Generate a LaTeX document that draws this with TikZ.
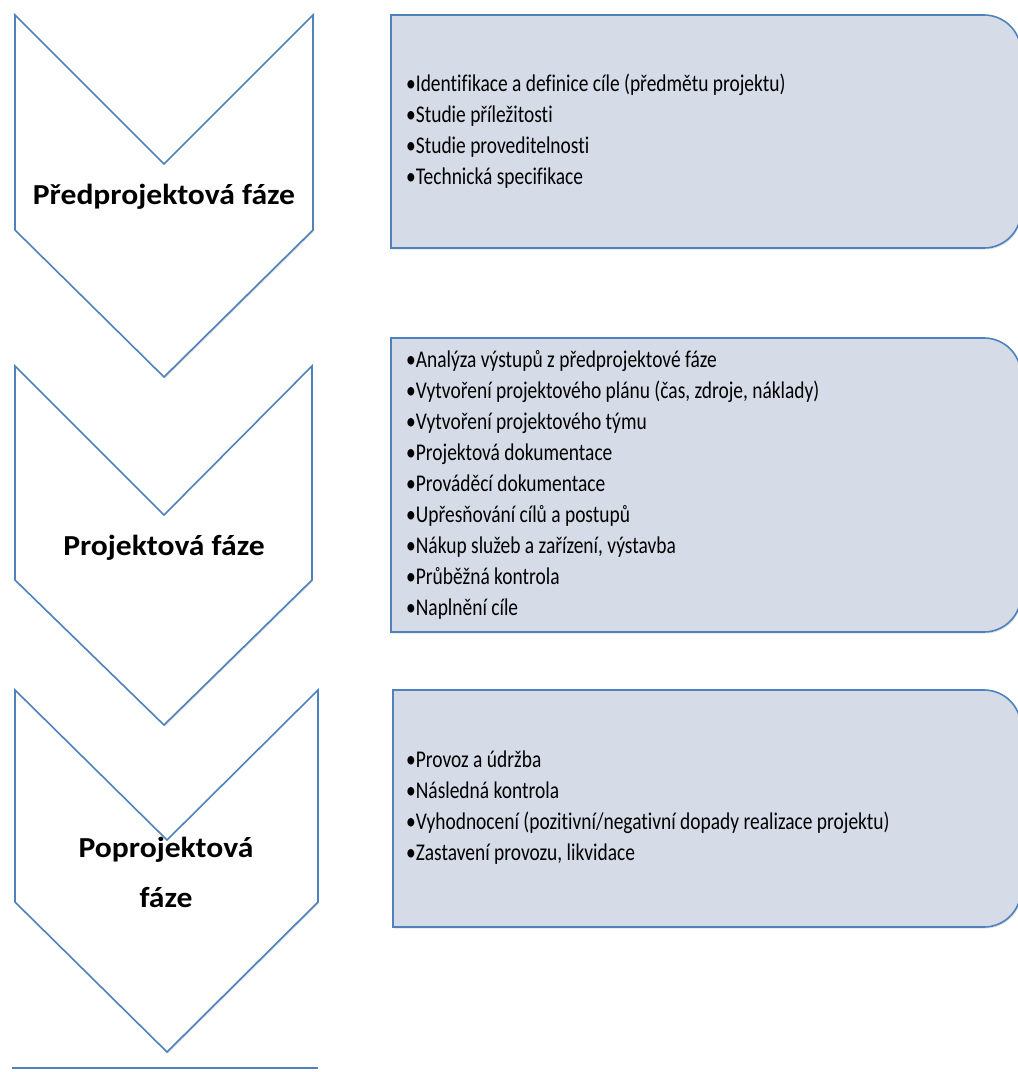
\documentclass[tikz,border=0pt]{standalone}
\usepackage{fontspec}
\setmainfont{Carlito}
\newfontfamily\itemfont[FakeStretch=0.81, Ligatures=NoCommon]{Carlito}
\newfontfamily\phasefont[FakeStretch=1.09, Ligatures=NoCommon]{Carlito}
\usepackage{xcolor}
\usepackage{tikz}
\usetikzlibrary{positioning, shadows}
\definecolor{lineblue}{RGB}{79,129,189}
\definecolor{panelfill}{RGB}{213,220,232}
\tikzstyle{Phase} = [
draw=lineblue, line width=1.6pt, fill=white, 
drop shadow={shadow xshift=1pt, shadow yshift=-1.5pt, fill=black!35, opacity=0.35}
]
\tikzstyle{Panel} = [
draw=lineblue, line width=1.6pt, fill=panelfill, 
drop shadow={shadow xshift=1pt, shadow yshift=-1.5pt, fill=black!35, opacity=0.35}
]
\tikzstyle{PhaseText} = [font=\phasefont\fontsize{29}{50}\selectfont\bfseries, align=center, inner sep=0pt]
\tikzstyle{ItemText} = [font=\itemfont\fontsize{24}{31}\selectfont, align=left, anchor=west, inner sep=0pt]

\begin{document}
\begin{tikzpicture}[x=1pt, y=-1pt]
			\useasboundingbox (0,0) rectangle (1018,1072);
			\clip (0,0) rectangle (1018,1072);
			
			% phases on the left
			\draw[Phase] (15,15) -- (164,164) -- (313,15) -- (313,230) -- (164,377) -- (15,230) -- cycle;
			\draw[Phase] (15,366) -- (164,515) -- (312,366) -- (312,580) -- (164,725) -- (15,580) -- cycle;
			\draw[Phase] (15,690) -- (167,840) -- (318,690) -- (318,902) -- (167,1052) -- (15,902) -- cycle;
			\draw[lineblue, line width=1.6pt] (12,1068) -- (318,1068);
			
			% panels on the right
			\draw[Panel] (391,15) -- (984,15) arc[start angle=-90, end angle=0, radius=37] 
				-- (1021,211) arc[start angle=0, end angle=90, radius=37] -- (391,248) -- cycle;
			\draw[Panel] (391,338) -- (984,338) arc[start angle=-90, end angle=0, radius=37] 
				-- (1021,595) arc[start angle=0, end angle=90, radius=37] -- (391,632) -- cycle;
			\draw[Panel] (393,690) -- (984,690) arc[start angle=-90, end angle=0, radius=37] 
				-- (1021,890) arc[start angle=0, end angle=90, radius=37] -- (393,927) -- cycle;
			
			\node[PhaseText] (1) at (164,197) {Předprojektová fáze};
			\node[PhaseText] (2) at (164,548) {Projektová fáze};
			\node[PhaseText] (3) at (166,872) {Poprojektová\\fáze};
			
			\node[ItemText] (1a) at (406,131.5) {•Identifikace a definice cíle (předmětu projektu)\\
				•Studie příležitosti\\
				•Studie proveditelnosti\\
				•Technická specifikace};
			\node[ItemText] (2a) at (406,485) {•Analýza výstupů z předprojektové fáze\\
				•Vytvoření projektového plánu (čas, zdroje, náklady)\\
				•Vytvoření projektového týmu\\
				•Projektová dokumentace\\
				•Prováděcí dokumentace\\
				•Upřesňování cílů a postupů\\
				•Nákup služeb a zařízení, výstavba\\
				•Průběžná kontrola\\
				•Naplnění cíle};
			\node[ItemText] (3a) at (406,808) {•Provoz a údržba\\
				•Následná kontrola\\
				•Vyhodnocení (pozitivní/negativní dopady realizace projektu)\\
				•Zastavení provozu, likvidace};
		\end{tikzpicture}
\end{document}
